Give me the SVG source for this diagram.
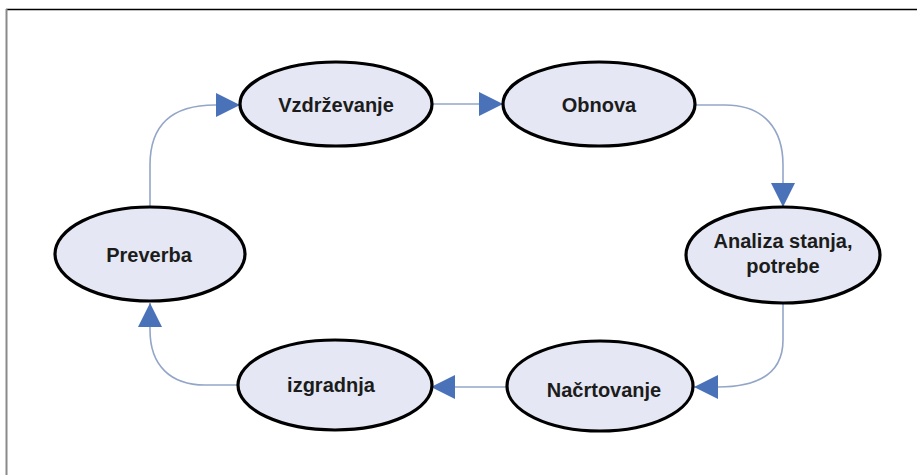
<svg xmlns="http://www.w3.org/2000/svg" width="917" height="475" viewBox="0 0 917 475">
<defs>
<style>
.node ellipse{fill:#e5e8f4;stroke:#000;stroke-width:3.2}
.node text{font-family:"Liberation Sans",Arial,sans-serif;font-weight:bold;font-size:20px;fill:#1c1c1c;text-anchor:middle}
.conn path{fill:none;stroke:#94a6c8;stroke-width:1.6}
</style>
<marker id="arr" viewBox="0 0 24 24" refX="24" refY="12" markerWidth="24" markerHeight="24" markerUnits="userSpaceOnUse" orient="auto">
<path d="M0,0 L24,12 L0,24 Z" fill="#4a72b9"/>
</marker>
</defs>
<rect width="917" height="475" fill="#fff"/>
<line x1="6" y1="9.5" x2="917" y2="9.5" stroke="#000" stroke-width="1.6"/>
<line x1="6.5" y1="9" x2="6.5" y2="475" stroke="#8a8a8a" stroke-width="2"/>
<g id="connectors" class="conn">
<path d="M150,207 L150,165 C150,125 172,105 215,105 L240,105" marker-end="url(#arr)"/>
<path d="M432,104 L503,104" marker-end="url(#arr)"/>
<path d="M695,105 L725,105 C765,105 783,130 783,165 L783,207" marker-end="url(#arr)"/>
<path d="M783,303 L783,340 C783,372 760,387 718,387 L694,387" marker-end="url(#arr)"/>
<path d="M507,387 L431,387" marker-end="url(#arr)"/>
<path d="M238,385 L205,385 C170,385 150,365 150,330 L150,303" marker-end="url(#arr)"/>
</g>
<g id="vzdrzevanje" class="node"><ellipse cx="336" cy="104" rx="96" ry="42"/><text x="336" y="112">Vzdrževanje</text></g>
<g id="obnova" class="node"><ellipse cx="599" cy="104" rx="96" ry="42"/><text x="599" y="112">Obnova</text></g>
<g id="analiza" class="node"><ellipse cx="783" cy="255" rx="97" ry="48"/><text x="783" y="248">Analiza stanja,</text><text x="783" y="273">potrebe</text></g>
<g id="nacrtovanje" class="node"><ellipse cx="600" cy="386" rx="93" ry="45"/><text x="604" y="397">Načrtovanje</text></g>
<g id="izgradnja" class="node"><ellipse cx="335" cy="385" rx="97" ry="45"/><text x="331" y="392">izgradnja</text></g>
<g id="preverba" class="node"><ellipse cx="150" cy="254" rx="95" ry="47"/><text x="149" y="262">Preverba</text></g>
</svg>
